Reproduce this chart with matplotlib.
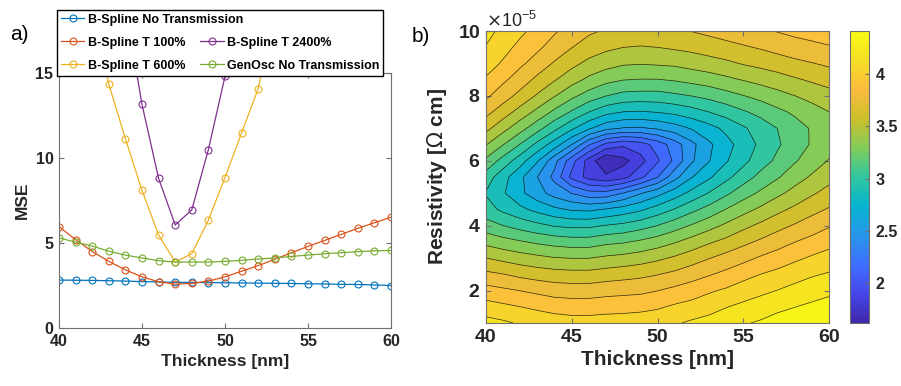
import numpy as np
import matplotlib
matplotlib.use('Agg')
import matplotlib.pyplot as plt
from matplotlib.lines import Line2D
from matplotlib.colors import LinearSegmentedColormap, Normalize
from matplotlib.ticker import ScalarFormatter
import matplotlib.cm as cm

plt.rcParams['font.family'] = ['Liberation Sans', 'DejaVu Sans']

# ---- data, panel a): MSE against thickness for each fit model ----
thickness = [40, 41, 42, 43, 44, 45, 46, 47, 48, 49, 50,
             51, 52, 53, 54, 55, 56, 57, 58, 59, 60]
mse_no_trans = [2.82, 2.81, 2.80, 2.78, 2.76, 2.73, 2.71, 2.69, 2.68, 2.67, 2.66,
                2.65, 2.64, 2.63, 2.62, 2.60, 2.59, 2.57, 2.56, 2.53, 2.50]
mse_t100 = [5.96, 5.20, 4.50, 3.92, 3.42, 3.01, 2.72, 2.58, 2.62, 2.76, 3.01,
            3.34, 3.67, 4.04, 4.43, 4.80, 5.15, 5.51, 5.86, 6.19, 6.52]
mse_t600 = [np.nan, 24.0, 19.0, 14.35, 11.13, 8.10, 5.48, 3.88, 4.37, 6.35, 8.85,
            11.48, 14.08, 18.7, np.nan, np.nan, np.nan, np.nan, np.nan, np.nan, np.nan]
mse_t2400 = [np.nan, np.nan, np.nan, np.nan, 18.9, 13.15, 8.80, 6.06, 6.95, 10.50, 14.8,
             20.0, np.nan, np.nan, np.nan, np.nan, np.nan, np.nan, np.nan, np.nan, np.nan]
mse_genosc = [5.30, 5.05, 4.82, 4.52, 4.29, 4.12, 3.96, 3.88, 3.88, 3.88, 3.92,
              3.98, 4.06, 4.12, 4.21, 4.29, 4.37, 4.43, 4.49, 4.54, 4.56]

series_labels = ['B-Spline No Transmission', 'B-Spline T 100%', 'B-Spline T 600%',
                 'B-Spline T 2400%', 'GenOsc No Transmission']
series_colors = ['#0072BD', '#D95319', '#EDB120', '#7E2F8E', '#77AC30']

# ---- data, panel b): MSE map over thickness (columns) and resistivity (rows) ----
map_thickness = [40, 41, 42, 43, 44, 45, 46, 47, 48, 49, 50,
                 51, 52, 53, 54, 55, 56, 57, 58, 59, 60]
map_resistivity = [1.0e-5, 1.5e-5, 2.0e-5, 2.5e-5, 3.0e-5, 3.5e-5, 4.0e-5, 4.5e-5, 5.0e-5,
                   5.5e-5, 6.0e-5, 6.5e-5, 7.0e-5, 7.5e-5, 8.0e-5, 8.5e-5, 9.0e-5,
                   9.5e-5, 10.0e-5]
mse_map = [
    [4.17, 4.14, 4.10, 4.07, 4.05, 4.03, 4.03, 4.04, 4.04, 4.05, 4.07, 4.10, 4.14, 4.17, 4.21, 4.25, 4.28, 4.32, 4.35, 4.38, 4.41],
    [4.03, 4.00, 3.97, 3.94, 3.91, 3.90, 3.90, 3.91, 3.92, 3.93, 3.95, 3.99, 4.02, 4.06, 4.11, 4.15, 4.19, 4.23, 4.26, 4.29, 4.32],
    [3.88, 3.85, 3.82, 3.79, 3.76, 3.75, 3.75, 3.77, 3.78, 3.79, 3.82, 3.86, 3.90, 3.95, 3.99, 4.04, 4.08, 4.12, 4.16, 4.20, 4.23],
    [3.71, 3.68, 3.64, 3.61, 3.59, 3.58, 3.58, 3.60, 3.62, 3.64, 3.67, 3.71, 3.76, 3.81, 3.86, 3.92, 3.97, 4.01, 4.06, 4.10, 4.13],
    [3.53, 3.49, 3.45, 3.42, 3.39, 3.38, 3.38, 3.41, 3.43, 3.46, 3.50, 3.55, 3.61, 3.67, 3.73, 3.78, 3.84, 3.89, 3.94, 3.99, 4.03],
    [3.34, 3.29, 3.25, 3.21, 3.18, 3.16, 3.16, 3.20, 3.22, 3.26, 3.31, 3.37, 3.44, 3.51, 3.57, 3.64, 3.70, 3.76, 3.82, 3.87, 3.92],
    [3.15, 3.09, 3.03, 2.98, 2.93, 2.91, 2.91, 2.95, 2.98, 3.03, 3.09, 3.17, 3.25, 3.33, 3.41, 3.49, 3.56, 3.63, 3.69, 3.75, 3.81],
    [3.00, 2.91, 2.83, 2.75, 2.68, 2.63, 2.62, 2.66, 2.71, 2.77, 2.86, 2.95, 3.05, 3.14, 3.24, 3.33, 3.41, 3.49, 3.56, 3.63, 3.69],
    [2.93, 2.81, 2.68, 2.56, 2.44, 2.35, 2.26, 2.26, 2.36, 2.49, 2.60, 2.72, 2.84, 2.95, 3.06, 3.17, 3.26, 3.35, 3.43, 3.51, 3.58],
    [3.02, 2.85, 2.68, 2.50, 2.31, 2.02, 1.86, 1.80, 1.86, 2.02, 2.20, 2.45, 2.64, 2.77, 2.90, 3.02, 3.13, 3.22, 3.32, 3.40, 3.48],
    [3.20, 3.03, 2.86, 2.66, 2.40, 2.12, 1.85, 1.62, 1.72, 1.86, 2.04, 2.24, 2.48, 2.64, 2.78, 2.90, 3.02, 3.12, 3.22, 3.31, 3.39],
    [3.39, 3.24, 3.08, 2.90, 2.72, 2.50, 2.22, 2.02, 1.94, 1.99, 2.12, 2.28, 2.46, 2.62, 2.74, 2.86, 2.97, 3.07, 3.16, 3.25, 3.33],
    [3.57, 3.43, 3.29, 3.14, 2.98, 2.82, 2.67, 2.54, 2.49, 2.48, 2.52, 2.58, 2.66, 2.74, 2.83, 2.92, 3.01, 3.09, 3.17, 3.25, 3.32],
    [3.72, 3.60, 3.47, 3.34, 3.20, 3.07, 2.94, 2.84, 2.79, 2.78, 2.80, 2.83, 2.88, 2.94, 3.00, 3.07, 3.13, 3.20, 3.26, 3.32, 3.38],
    [3.85, 3.74, 3.63, 3.51, 3.39, 3.27, 3.17, 3.09, 3.04, 3.03, 3.03, 3.06, 3.09, 3.13, 3.18, 3.23, 3.28, 3.33, 3.38, 3.43, 3.47],
    [3.95, 3.85, 3.75, 3.64, 3.54, 3.44, 3.35, 3.28, 3.24, 3.23, 3.23, 3.25, 3.28, 3.31, 3.35, 3.39, 3.43, 3.47, 3.51, 3.55, 3.59],
    [4.04, 3.95, 3.85, 3.76, 3.66, 3.57, 3.49, 3.44, 3.40, 3.39, 3.40, 3.41, 3.44, 3.47, 3.50, 3.54, 3.57, 3.60, 3.64, 3.67, 3.70],
    [4.11, 4.02, 3.93, 3.85, 3.76, 3.68, 3.61, 3.56, 3.53, 3.52, 3.53, 3.55, 3.57, 3.60, 3.63, 3.66, 3.69, 3.73, 3.76, 3.78, 3.81],
    [4.16, 4.08, 4.00, 3.92, 3.84, 3.76, 3.70, 3.66, 3.64, 3.63, 3.64, 3.66, 3.68, 3.71, 3.74, 3.77, 3.80, 3.83, 3.86, 3.89, 3.91],
]

# MATLAB parula colour map, rebuilt from anchor colours
parula_pts = [(0.2422, 0.1504, 0.6603), (0.2803, 0.2782, 0.9221), (0.2440, 0.4358, 0.9988),
              (0.1540, 0.5902, 0.9218), (0.0297, 0.7082, 0.8163), (0.1938, 0.7758, 0.6251),
              (0.5044, 0.7993, 0.3480), (0.8000, 0.7511, 0.1737), (0.9871, 0.7348, 0.2446),
              (0.9609, 0.8709, 0.1427), (0.9769, 0.9839, 0.0805)]
parula = LinearSegmentedColormap.from_list('parula', parula_pts)

fig = plt.figure(figsize=(9.01, 3.86), dpi=100)
spine_col = '#707070'
txt_col = '#262626'

# ---- panel a ----
ax1 = fig.add_axes([59 / 901, 58 / 386, 332 / 901, 255 / 386])
ys = [mse_no_trans, mse_t100, mse_t600, mse_t2400, mse_genosc]
handles = []
for y, c, lab in zip(ys, series_colors, series_labels):
    h, = ax1.plot(thickness, y, '-o', color=c, mfc='none', ms=5, mew=0.8, lw=0.9, label=lab)
    handles.append(h)
ax1.set_xlim(40, 60)
ax1.set_ylim(0, 15)
ax1.set_xticks([40, 45, 50, 55, 60])
ax1.set_yticks([0, 5, 10, 15])
ax1.set_xlabel('Thickness [nm]', fontsize=12.5, fontweight='bold', color=txt_col, labelpad=4)
ax1.set_ylabel('MSE', fontsize=12.5, fontweight='bold', color=txt_col, labelpad=4)

# empty slot so the second legend column starts on the second row
blank = Line2D([], [], color='none')
leg = fig.legend([handles[0], handles[1], handles[2], blank, handles[3], handles[4]],
                 [series_labels[0], series_labels[1], series_labels[2], '',
                  series_labels[3], series_labels[4]],
                 ncol=2, loc='upper left', bbox_to_anchor=(57 / 901, 1 - 10 / 386),
                 columnspacing=-3.4, handlelength=1.9, handletextpad=0.25,
                 labelspacing=0.88, borderpad=0.3, borderaxespad=0,
                 prop={'weight': 'bold', 'size': 9}, fancybox=False, framealpha=1,
                 edgecolor='black')
leg.get_frame().set_linewidth(1.0)

# ---- panel b ----
Z = np.array(mse_map)
ax2 = fig.add_axes([486 / 901, 63 / 386, 343 / 901, 292 / 386])
levels = np.linspace(Z.min(), Z.max(), 20)
norm = Normalize(vmin=Z.min(), vmax=Z.max())
ax2.contourf(map_thickness, map_resistivity, Z, levels=levels, cmap=parula, norm=norm)
ax2.contour(map_thickness, map_resistivity, Z, levels=levels, colors='k',
            linewidths=0.5, alpha=0.8)
ax2.set_xlim(40, 60)
ax2.set_ylim(1e-5, 10e-5)
ax2.set_xticks([40, 45, 50, 55, 60])
ax2.set_yticks([2e-5, 4e-5, 6e-5, 8e-5, 10e-5])
fmt = ScalarFormatter(useMathText=True)
fmt.set_powerlimits((-5, -5))
ax2.yaxis.set_major_formatter(fmt)
ax2.yaxis.get_offset_text().set_fontsize(13)
ax2.yaxis.get_offset_text().set_color(txt_col)
ax2.set_xlabel('Thickness [nm]', fontsize=15, fontweight='bold', color=txt_col, labelpad=3)
ax2.set_ylabel(r'Resistivity [$\Omega$ cm]', fontsize=15, fontweight='bold', color=txt_col,
               labelpad=6)

# continuous colour bar, like MATLAB's
cax = fig.add_axes([850 / 901, 63 / 386, 19 / 901, 292 / 386])
sm = cm.ScalarMappable(norm=norm, cmap=parula)
cb = fig.colorbar(sm, cax=cax)
cb.set_ticks([2, 2.5, 3, 3.5, 4])
cb.set_ticklabels(['2', '2.5', '3', '3.5', '4'])
cb.outline.set_edgecolor(spine_col)
cb.outline.set_linewidth(0.8)
cax.tick_params(direction='in', length=3, width=0.8, color=spine_col, labelsize=11.5,
                labelcolor=txt_col, pad=5)
for t in cax.get_yticklabels():
    t.set_fontweight('bold')

for ax, fs in ((ax1, 11.5), (ax2, 14)):
    ax.tick_params(direction='in', top=True, right=True, length=3.5, width=0.8,
                   color=spine_col, labelsize=fs, labelcolor=txt_col, pad=4)
    for t in ax.get_xticklabels() + ax.get_yticklabels():
        t.set_fontweight('bold')
    for s in ax.spines.values():
        s.set_color(spine_col)
        s.set_linewidth(0.8)

fig.text(10 / 901, 1 - 34 / 386, 'a)', fontsize=15, va='center', ha='left')
fig.text(412 / 901, 1 - 37 / 386, 'b)', fontsize=15, va='center', ha='left')

fig.savefig('out.png', dpi=100)
